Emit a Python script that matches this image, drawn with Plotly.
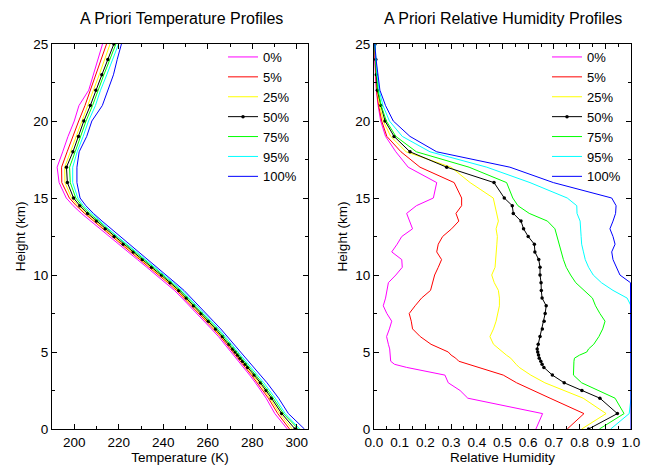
import plotly.graph_objects as go

heights = [0, 1, 2, 2.5, 3, 3.5, 4, 4.2, 4.4, 4.6, 4.8, 5, 5.2, 5.5, 6, 6.5, 7, 7.5, 8, 8.5,
           9, 9.5, 10, 10.5, 11, 11.5, 12, 12.5, 13, 13.5, 14, 14.5, 15, 16, 17, 18, 19, 20,
           21, 22, 23, 24, 25]

labels = ["0%", "5%", "25%", "50%", "75%", "95%", "100%"]
colors = ["#ff00ff", "#ff0000", "#ffff00", "#000000", "#00ff00", "#00ffff", "#0000ff"]

temp_p0 = [295.7, 290.1, 286.2, 283.9, 281.4, 278.8, 276.0, 274.9, 273.8, 272.7, 271.6, 270.5, 269.4,
           267.8, 264.8, 261.6, 258.4, 255.2, 251.8, 248.4, 245.0, 241.0, 237.0, 232.6, 228.4, 224.2,
           219.6, 215.4, 211.3, 207.3, 203.2, 199.5, 196.4, 193.2, 192.3, 194.8, 197.2, 200.0, 202.1,
           206.5, 208.6, 210.7, 212.7]
temp_p5 = [296.7, 291.4, 287.2, 284.8, 282.3, 279.6, 276.8, 275.7, 274.6, 273.5, 272.4, 271.3, 270.2,
           268.6, 265.6, 262.5, 259.2, 256.0, 252.6, 249.2, 245.9, 242.0, 238.0, 233.6, 229.4, 225.3,
           220.8, 216.6, 212.6, 208.6, 204.6, 200.9, 197.8, 194.4, 194.3, 196.8, 199.3, 202.0, 204.8,
           207.2, 209.8, 212.2, 214.5]
temp_p25 = [297.9, 292.3, 287.9, 285.5, 283.0, 280.2, 277.3, 276.2, 275.1, 274.0, 272.9, 271.8, 270.7,
            269.1, 266.1, 263.0, 259.7, 256.5, 253.1, 249.8, 246.4, 242.5, 238.6, 234.2, 230.0, 225.9,
            221.4, 217.3, 213.3, 209.3, 205.3, 201.7, 198.8, 195.8, 195.7, 198.3, 200.8, 203.3, 206.0,
            208.6, 211.2, 213.7, 216.1]
temp_p50 = [299.2, 293.2, 288.6, 286.2, 283.6, 280.8, 277.9, 276.8, 275.6, 274.5, 273.4, 272.3, 271.2,
            269.6, 266.6, 263.5, 260.2, 257.0, 253.6, 250.3, 247.0, 243.1, 239.2, 234.8, 230.6, 226.5,
            222.0, 217.9, 213.9, 210.0, 206.0, 202.5, 199.7, 196.9, 196.5, 199.4, 201.9, 204.3, 207.2,
            209.7, 212.4, 215.1, 217.8]
temp_p75 = [300.6, 294.0, 289.4, 287.0, 284.3, 281.5, 278.6, 277.5, 276.3, 275.2, 274.1, 273.0, 271.9,
            270.3, 267.3, 264.2, 260.9, 257.7, 254.3, 251.0, 247.7, 243.8, 239.9, 235.6, 231.4, 227.3,
            222.8, 218.7, 214.7, 210.8, 206.9, 203.4, 200.7, 198.2, 197.9, 200.4, 202.9, 205.3, 208.2,
            210.6, 213.3, 216.0, 218.7]
temp_p95 = [301.3, 294.8, 290.3, 287.9, 285.2, 282.3, 279.4, 278.3, 277.1, 276.0, 274.9, 273.8, 272.7,
            271.0, 268.0, 264.9, 261.6, 258.4, 255.0, 251.7, 248.4, 244.5, 240.5, 236.2, 232.0, 227.9,
            223.5, 219.4, 215.4, 211.5, 207.6, 204.1, 201.6, 199.3, 199.3, 201.3, 204.0, 206.4, 209.5,
            211.8, 214.6, 217.3, 219.9]
temp_p100 = [303.4, 296.2, 291.8, 289.4, 286.6, 283.6, 280.6, 279.4, 278.2, 277.0, 275.9, 274.8, 273.7,
             272.0, 269.0, 265.8, 262.5, 259.3, 255.9, 252.6, 249.3, 245.3, 241.2, 237.0, 232.8, 228.7,
             224.4, 220.3, 216.3, 212.5, 208.6, 205.2, 202.6, 201.2, 201.2, 202.2, 205.6, 207.9, 212.6,
             215.0, 217.6, 219.3, 221.2]

rh_p0 = [0.630, 0.656, 0.365, 0.335, 0.289, 0.276, 0.127, 0.080, 0.065, 0.064, 0.063, 0.062, 0.061,
         0.056, 0.049, 0.060, 0.069, 0.050, 0.036, 0.045, 0.050, 0.056, 0.085, 0.110, 0.108, 0.069,
         0.090, 0.108, 0.150, 0.138, 0.127, 0.165, 0.231, 0.244, 0.133, 0.085, 0.045, 0.026, 0.016,
         0.009, 0.005, 0.003, 0.002]
rh_p5 = [0.752, 0.817, 0.685, 0.620, 0.555, 0.503, 0.410, 0.370, 0.330, 0.318, 0.300, 0.289, 0.260,
         0.222, 0.180, 0.150, 0.145, 0.137, 0.160, 0.185, 0.220, 0.228, 0.236, 0.250, 0.263, 0.244,
         0.250, 0.267, 0.302, 0.330, 0.319, 0.341, 0.341, 0.312, 0.179, 0.105, 0.050, 0.030, 0.018,
         0.010, 0.006, 0.004, 0.002]
rh_p25 = [0.808, 0.903, 0.814, 0.740, 0.665, 0.610, 0.565, 0.553, 0.543, 0.532, 0.515, 0.500, 0.485,
          0.465, 0.451, 0.465, 0.475, 0.482, 0.488, 0.488, 0.484, 0.468, 0.458, 0.471, 0.474, 0.476,
          0.478, 0.480, 0.475, 0.484, 0.477, 0.472, 0.464, 0.374, 0.300, 0.125, 0.065, 0.036, 0.022,
          0.012, 0.008, 0.005, 0.003]
rh_p50 = [0.835, 0.947, 0.879, 0.809, 0.740, 0.694, 0.661, 0.654, 0.649, 0.643, 0.640, 0.637, 0.635,
          0.639, 0.646, 0.655, 0.662, 0.666, 0.670, 0.654, 0.651, 0.650, 0.646, 0.646, 0.641, 0.626,
          0.624, 0.600, 0.582, 0.572, 0.542, 0.538, 0.507, 0.467, 0.283, 0.140, 0.078, 0.043, 0.027,
          0.013, 0.009, 0.007, 0.004]
rh_p75 = [0.877, 0.973, 0.938, 0.870, 0.808, 0.776, 0.776, 0.777, 0.778, 0.780, 0.800, 0.828, 0.835,
          0.855, 0.875, 0.890, 0.899, 0.879, 0.862, 0.850, 0.818, 0.785, 0.765, 0.748, 0.737, 0.728,
          0.720, 0.712, 0.704, 0.675, 0.604, 0.560, 0.540, 0.516, 0.370, 0.165, 0.085, 0.048, 0.028,
          0.016, 0.010, 0.006, 0.003]
rh_p95 = [0.921, 0.993, 1.0, 1.0, 1.0, 1.0, 1.0, 1.0, 1.0, 1.0, 1.0, 1.0, 1.0,
          1.0, 1.0, 1.0, 1.0, 1.0, 1.0, 0.985, 0.930, 0.885, 0.853, 0.835, 0.822, 0.815,
          0.808, 0.806, 0.804, 0.802, 0.790, 0.789, 0.752, 0.607, 0.439, 0.218, 0.110, 0.060, 0.035,
          0.020, 0.012, 0.008, 0.004]
rh_p100 = [1.0, 1.0, 1.0, 1.0, 1.0, 1.0, 1.0, 1.0, 1.0, 1.0, 1.0, 1.0, 1.0,
           1.0, 1.0, 1.0, 1.0, 1.0, 1.0, 1.0, 1.0, 0.998, 0.957, 0.945, 0.930, 0.925,
           0.938, 0.930, 0.918, 0.930, 0.940, 0.942, 0.925, 0.698, 0.529, 0.244, 0.140, 0.075, 0.045,
           0.023, 0.015, 0.008, 0.003]

temp_series = [temp_p0, temp_p5, temp_p25, temp_p50, temp_p75, temp_p95, temp_p100]
rh_series = [rh_p0, rh_p5, rh_p25, rh_p50, rh_p75, rh_p95, rh_p100]

FONT = "Liberation Sans, Arial, Helvetica, sans-serif"
W, H = 651, 466

fig = go.Figure()

for i, (lab, col) in enumerate(zip(labels, colors)):
    is_med = lab == "50%"
    fig.add_trace(go.Scatter(
        x=temp_series[i], y=heights, xaxis="x", yaxis="y", name=lab,
        mode="lines+markers" if is_med else "lines",
        line=dict(color=col, width=1),
        marker=dict(color="black", size=3.5) if is_med else None,
        legend="legend", showlegend=True))
for i, (lab, col) in enumerate(zip(labels, colors)):
    is_med = lab == "50%"
    fig.add_trace(go.Scatter(
        x=rh_series[i], y=heights, xaxis="x2", yaxis="y2", name=lab,
        mode="lines+markers" if is_med else "lines",
        line=dict(color=col, width=1),
        marker=dict(color="black", size=3.5) if is_med else None,
        legend="legend2", showlegend=True))

def px_x(p):
    return p / W

def px_y(p):
    return 1 - p / H

axis_common = dict(
    showline=True, linecolor="black", linewidth=1, mirror="allticks",
    ticks="inside", ticklen=5, tickcolor="black", tickwidth=1,
    showgrid=False, zeroline=False, automargin=False,
    tickfont=dict(family=FONT, size=13.5, color="black"),
)
title_font = dict(family=FONT, size=13.5, color="black")

fig.update_layout(
    width=W, height=H,
    margin=dict(l=0, r=0, t=0, b=0),
    paper_bgcolor="white", plot_bgcolor="white",
    font=dict(family=FONT, size=13, color="black"),
    xaxis=dict(domain=[px_x(52), px_x(308)], range=[190, 305], anchor="y",
               tickvals=[200, 220, 240, 260, 280, 300],
               minor=dict(dtick=10, tick0=190, ticks="inside", ticklen=3, tickcolor="black"),
               ticklabelstandoff=1,
               title=dict(text="Temperature (K)", font=title_font, standoff=0),
               **axis_common),
    yaxis=dict(domain=[px_y(429), px_y(44)], range=[0, 25], anchor="x",
               tickvals=[0, 5, 10, 15, 20, 25],
               minor=dict(dtick=2.5, ticks="inside", ticklen=3, tickcolor="black"),
               title=dict(text="Height (km)", font=title_font, standoff=4),
               **axis_common),
    xaxis2=dict(domain=[px_x(374), px_x(631)], range=[0, 1], anchor="y2",
                tickvals=[0, 0.1, 0.2, 0.3, 0.4, 0.5, 0.6, 0.7, 0.8, 0.9, 1.0],
                ticktext=["0.0", "0.1", "0.2", "0.3", "0.4", "0.5", "0.6", "0.7", "0.8", "0.9", "1.0"],
                minor=dict(dtick=0.05, ticks="inside", ticklen=3, tickcolor="black"),
                ticklabelstandoff=1,
                title=dict(text="Relative Humidity", font=title_font, standoff=0),
                **axis_common),
    yaxis2=dict(domain=[px_y(429), px_y(44)], range=[0, 25], anchor="x2",
                tickvals=[0, 5, 10, 15, 20, 25],
                minor=dict(dtick=2.5, ticks="inside", ticklen=3, tickcolor="black"),
                title=dict(text="Height (km)", font=title_font, standoff=4),
                **axis_common),
    legend=dict(x=px_x(223), y=px_y(42), xanchor="left", yanchor="top",
                bgcolor="rgba(0,0,0,0)", borderwidth=0,
                font=dict(family=FONT, size=13, color="black"),
                itemwidth=30, tracegroupgap=0),
    legend2=dict(x=px_x(547), y=px_y(42), xanchor="left", yanchor="top",
                 bgcolor="rgba(0,0,0,0)", borderwidth=0,
                 font=dict(family=FONT, size=13, color="black"),
                 itemwidth=30, tracegroupgap=0),
    annotations=[
        dict(text="A Priori Temperature Profiles", x=px_x(181), y=px_y(18), xref="paper", yref="paper",
             showarrow=False, xanchor="center", yanchor="middle",
             font=dict(family=FONT, size=16, color="black")),
        dict(text="A Priori Relative Humidity Profiles", x=px_x(503), y=px_y(18), xref="paper", yref="paper",
             showarrow=False, xanchor="center", yanchor="middle",
             font=dict(family=FONT, size=16, color="black")),
    ],
)

fig.write_html("out.html", config={"displayModeBar": False},
               post_script="document.body.style.margin='0px';document.body.style.overflow='hidden';")
